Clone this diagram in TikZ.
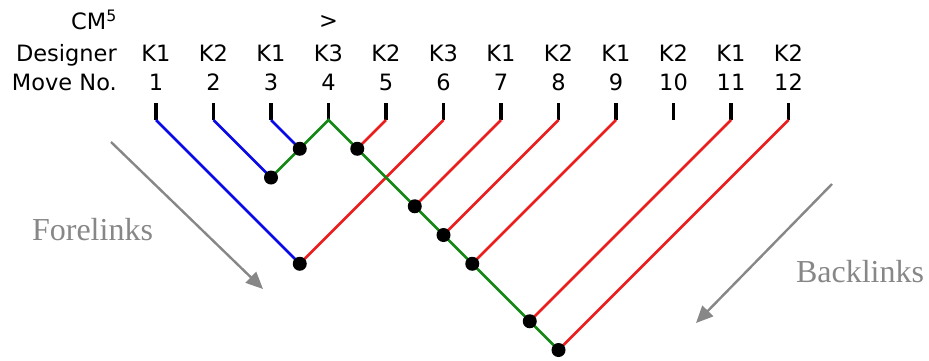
\documentclass[tikz,border=0pt]{standalone}
\usepackage{fontspec}
\setmainfont{DejaVu Sans}
\newfontfamily\linkfont{Liberation Serif}
\usetikzlibrary{arrows.meta,calc}
\definecolor{lblue}{RGB}{10,10,230}
\definecolor{lred}{RGB}{235,30,30}
\definecolor{lgreen}{RGB}{20,135,20}
\definecolor{lgray}{RGB}{135,135,135}
\begin{document}
\begin{tikzpicture}[x=1pt,y=1pt,
  lab/.style={inner sep=0pt,anchor=base,font=\fontsize{22.5}{24}\selectfont},
  rowlab/.style={inner sep=0pt,anchor=base east,font=\fontsize{22.5}{24}\selectfont},
  tick/.style={line width=3.2pt,black},
  bl/.style={line width=2.8pt,lblue},
  rl/.style={line width=2.6pt,lred},
  gl/.style={line width=2.8pt,lgreen},
  dot/.style={circle,fill=black,inner sep=0pt,minimum size=14pt},
  linklab/.style={inner sep=0pt,text=lgray,font=\linkfont\fontsize{32}{34}\selectfont},
  linkarrow/.style={line width=2.4pt,lgray,-{Triangle[length=17pt,width=15pt]}}
]
\useasboundingbox (0,-360) rectangle (929,0);
% row labels
\node[rowlab] (cm) at (117,-29) {CM\textsuperscript{5}};
\node[rowlab] (des) at (117,-61) {Designer};
\node[rowlab] (mov) at (117,-90) {Move No.};
\node[lab] (gt) at (328.5,-28) {>};
% columns
\foreach \i/\d in {1/K1,2/K2,3/K1,4/K3,5/K2,6/K3,7/K1,8/K2,9/K1,10/K2,11/K1,12/K2}{
  \pgfmathsetmacro{\xx}{156+57.5*(\i-1)}
  \node[lab] (d\i) at (\xx,-61) {\d};
  \node[lab] (n\i) at (\xx,-90) {\i};
  \coordinate (t\i) at (\xx,-103);
  \coordinate (b\i) at (\xx,-120);
  \draw[tick] (t\i) -- (b\i);
}
% junctions
\coordinate (j23) at ($(b2)!0.5!(b4)+(0,-57.5)$);
\coordinate (j34) at ($(b3)!0.5!(b4)+(0,-28.75)$);
\coordinate (j45) at ($(b4)!0.5!(b5)+(0,-28.75)$);
\coordinate (j16) at ($(b1)!0.5!(b6)+(0,-143.75)$);
\coordinate (j47) at ($(b4)!0.5!(b7)+(0,-86.25)$);
\coordinate (j48) at ($(b4)!0.5!(b8)+(0,-115)$);
\coordinate (j49) at ($(b4)!0.5!(b9)+(0,-143.75)$);
\coordinate (j411) at ($(b4)!0.5!(b11)+(0,-201.25)$);
\coordinate (j412) at ($(b4)!0.5!(b12)+(0,-230)$);
% blue links
\draw[bl] (b1) -- (j16);
\draw[bl] (b2) -- (j23);
\draw[bl] (b3) -- (j34);
% red links
\draw[rl] (b5) -- (j45);
\draw[rl] (b6) -- (j16);
\draw[rl] (b7) -- (j47);
\draw[rl] (b8) -- (j48);
\draw[rl] (b9) -- (j49);
\draw[rl] (b11) -- (j411);
\draw[rl] (b12) -- (j412);
% green links
\draw[gl,line join=miter] (j23) -- (j34) -- (b4) -- (j45) -- (j47) -- (j48) -- (j49) -- (j411) -- (j412);
% dots
\foreach \j in {j23,j34,j45,j16,j47,j48,j49,j411,j412}{
  \node[dot] (dot\j) at (\j) {};
}
% fore/back links
\node[linklab] (fore) at (92.5,-230) {Forelinks};
\node[linklab] (back) at (860,-272) {Backlinks};
\coordinate (fa1) at (111,-142);
\coordinate (fa2) at (263,-289);
\coordinate (ba1) at (832,-184);
\coordinate (ba2) at (696,-323);
\draw[linkarrow] (fa1) -- (fa2);
\draw[linkarrow] (ba1) -- (ba2);
\end{tikzpicture}
\end{document}
